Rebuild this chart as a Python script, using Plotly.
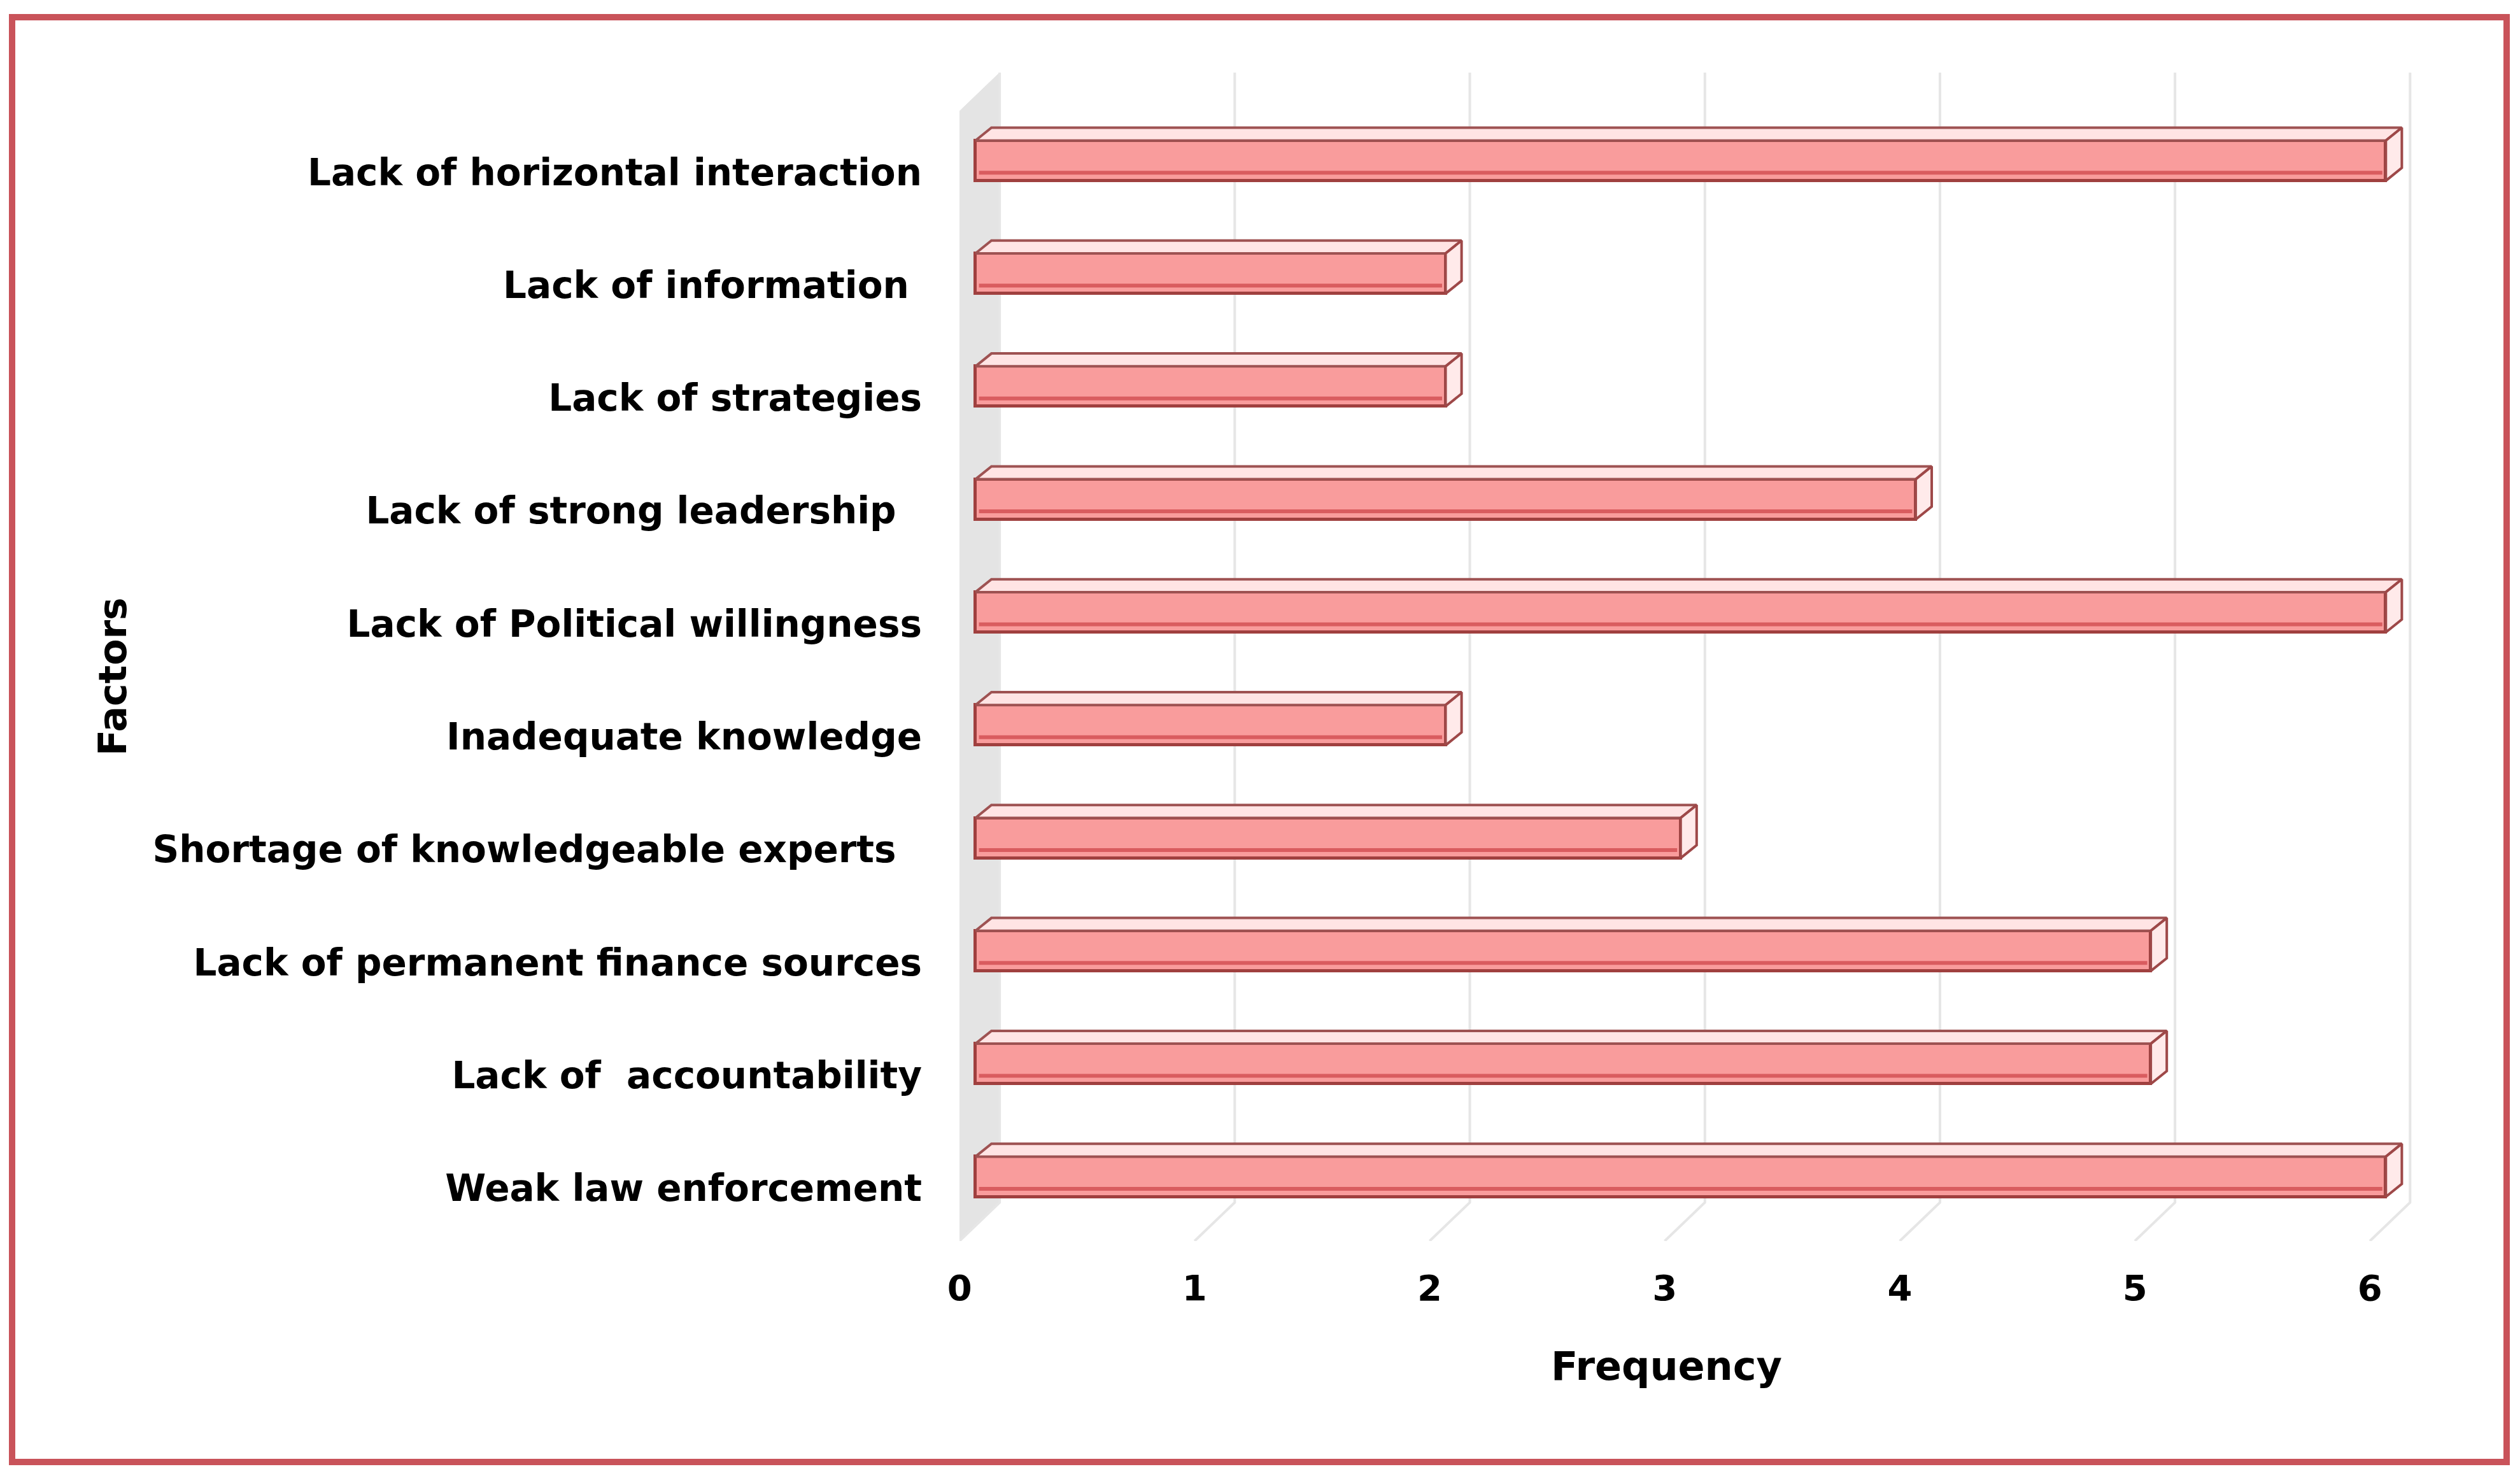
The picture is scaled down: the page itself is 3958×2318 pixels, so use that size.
import plotly.graph_objects as go

# ---------------- data ----------------
categories = [
    "Weak law enforcement",
    "Lack of\u00a0 accountability",
    "Lack of permanent finance sources",
    "Shortage of knowledgeable experts\u00a0\u00a0",
    "Inadequate knowledge",
    "Lack of Political willingness",
    "Lack of strong leadership\u00a0\u00a0",
    "Lack of strategies",
    "Lack of information\u00a0",
    "Lack of horizontal interaction",
]
values = [6, 5, 5, 3, 2, 6, 4, 2, 2, 6]
x_ticks = [0, 1, 2, 3, 4, 5, 6]
x_title = "Frequency"
y_title = "Factors"

# ---------------- layout geometry (pixels of the figure) ----------------
W, H = 3942, 2302
ML, MR, MT, MB = 1499, 151, 106, 361
PW, PH = W - ML - MR, H - MT - MB

def px(fx):
    return (fx - ML) / PW

def py(fy):
    return (H - MB - fy) / PH

pos = list(range(len(categories)))
XR = [-0.068, 6.14]
YR = [-0.57, 9.78]

# 3D styling offsets (in axis units)
wall_dx, wall_dy = 0.171, 0.342
bar_dx, bar_dy = 0.068, 0.114
bar_h = 0.356

FONT = "DejaVu Sans"
grid_col = "#E6E6E6"

fig = go.Figure()

# left wall (below traces)
wall = [(XR[0], YR[0]), (XR[0] + wall_dx, YR[0] + wall_dy),
        (XR[0] + wall_dx, YR[1]), (XR[0], YR[1] - wall_dy)]
fig.add_shape(type="path", xref="x", yref="y", layer="below",
              path="M " + " L ".join(f"{a},{b}" for a, b in wall) + " Z",
              fillcolor="#E4E4E4", line=dict(color="#E4E4E4", width=1))

# gridlines on floor + back wall (below traces)
for t in x_ticks:
    xb = t + XR[0] + wall_dx
    xf = t + XR[0]
    fig.add_shape(type="path", xref="x", yref="y", layer="below",
                  path=f"M {xf},{YR[0]} L {xb},{YR[0] + wall_dy} L {xb},{YR[1]}",
                  line=dict(color=grid_col, width=4))

# bars: front face
fig.add_trace(go.Bar(
    x=values, y=pos, orientation="h", width=bar_h,
    marker=dict(color="#F99C9C", line=dict(color="#A0403F", width=5)),
    hoverinfo="skip", showlegend=False))

for v, p in zip(values, pos):
    top = p + bar_h / 2
    bot = p - bar_h / 2
    # inner bevel line near bottom
    yl = bot + 0.2 * bar_h
    fig.add_trace(go.Scatter(
        x=[0.015, v - 0.015], y=[yl, yl], mode="lines",
        line=dict(color="#D95C5F", width=6), hoverinfo="skip", showlegend=False))
    # top face
    fig.add_trace(go.Scatter(
        x=[0, v, v + bar_dx, bar_dx, 0],
        y=[top, top, top + bar_dy, top + bar_dy, top],
        mode="lines", fill="toself", fillcolor="#FFE4E4",
        line=dict(color="#9E5252", width=4), hoverinfo="skip", showlegend=False))
    # right face
    fig.add_trace(go.Scatter(
        x=[v, v + bar_dx, v + bar_dx, v, v],
        y=[bot, bot + bar_dy, top + bar_dy, top, bot],
        mode="lines", fill="toself", fillcolor="#FFEAEA",
        line=dict(color="#9E4848", width=4), hoverinfo="skip", showlegend=False))

fig.update_layout(
    width=W, height=H,
    margin=dict(l=ML, r=MR, t=MT, b=MB),
    paper_bgcolor="white", plot_bgcolor="white",
    showlegend=False,
    font=dict(family=FONT, color="#000000"),
    xaxis=dict(range=XR, tickvals=x_ticks, ticktext=[str(t) for t in x_ticks],
               showgrid=False, zeroline=False, showline=False, ticks="",
               tickfont=dict(family=FONT, size=56, color="#000000", weight="bold"),
               ticklabelshift=-25, ticklabelstandoff=36, fixedrange=True),
    yaxis=dict(range=YR, tickvals=pos, ticktext=categories,
               showgrid=False, zeroline=False, showline=False, ticks="",
               tickfont=dict(family=FONT, size=58, color="#000000", weight="bold"),
               ticklabelshift=18, ticklabelstandoff=58, fixedrange=True),
    bargap=0,
)

fig.add_annotation(text=x_title, xref="paper", yref="paper",
                   x=px(2609), y=py(2137), showarrow=False,
                   xanchor="center", yanchor="middle",
                   font=dict(family=FONT, size=62, color="#000000", weight="bold"))
fig.add_annotation(text=y_title, xref="paper", yref="paper",
                   x=px(169), y=py(1055), showarrow=False, textangle=-90,
                   xanchor="center", yanchor="middle",
                   font=dict(family=FONT, size=60, color="#000000", weight="bold"))

# outer frame
fig.add_shape(type="rect", xref="paper", yref="paper",
              x0=px(11), x1=px(3929), y0=py(19), y1=py(2288),
              line=dict(color="#C9535A", width=10), fillcolor="rgba(0,0,0,0)",
              layer="above")

fig.write_html("out.html")
